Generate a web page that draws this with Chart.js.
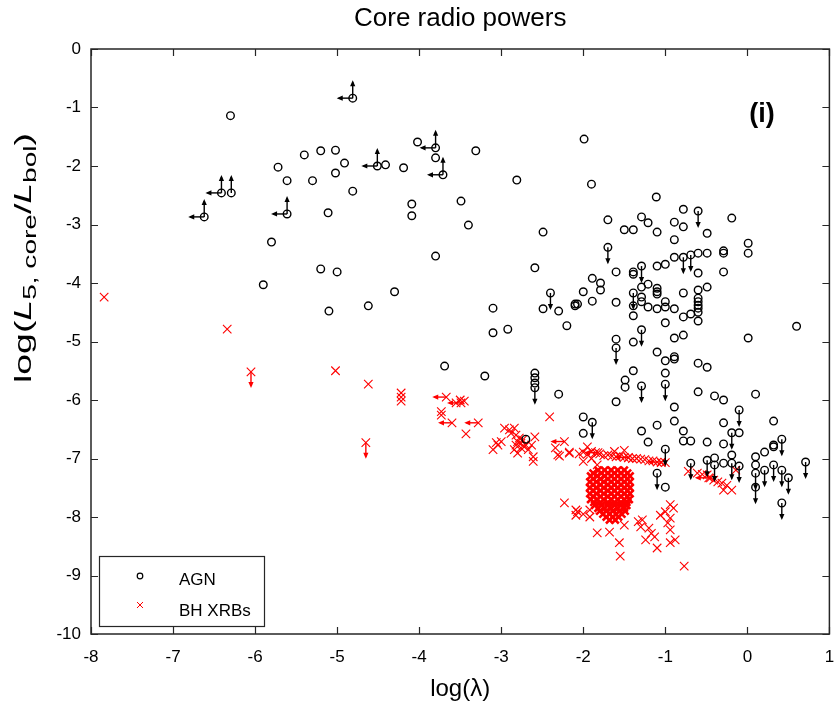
<!DOCTYPE html>
<html>
<head>
<meta charset="utf-8">
<script src="https://cdn.jsdelivr.net/npm/chart.js@4.4.0/dist/chart.umd.min.js"></script>
<style>
  html, body { margin: 0; padding: 0; background: #fff; }
</style>
</head>
<body>
<canvas id="chart" width="837" height="709"></canvas>
<script>
const FONT = '"Liberation Sans", Arial, sans-serif';

// axis ticks
const xTicks = [-8, -7, -6, -5, -4, -3, -2, -1, 0, 1];
const yTicks = [0, -1, -2, -3, -4, -5, -6, -7, -8, -9, -10];

// AGN detections [log lambda, log Lcore/Lbol]
const agnDetections = [
  [-6.30,-1.14],[-5.40,-1.81],[-5.20,-1.74],[-5.02,-1.73],[-5.02,-2.12],[-5.72,-2.02],[-5.61,-2.25],
  [-5.30,-2.25],[-5.11,-2.80],[-5.80,-3.30],[-4.91,-1.95],[-4.81,-2.43],[-4.41,-1.98],[-4.19,-2.03],
  [-4.09,-2.65],[-4.09,-2.85],[-4.02,-1.59],[-3.80,-1.86],[-3.31,-1.74],[-3.49,-2.60],[-2.81,-2.24],
  [-3.40,-3.01],[-2.49,-3.13],[-1.99,-1.54],[-1.90,-2.31],[-1.11,-2.53],[-1.70,-2.92],[-1.50,-3.09],
  [-1.39,-3.09],[-1.29,-2.87],[-1.21,-2.97],[-1.10,-3.13],[-0.89,-2.96],[-0.78,-2.74],[-0.78,-3.04],
  [-0.49,-3.15],[-0.89,-3.26],[-0.19,-2.89],[0.01,-3.32],[-1.60,-3.81],[-1.89,-3.92],[-1.79,-4.00],
  [-1.79,-4.12],[-2.00,-4.15],[-1.89,-4.31],[-2.07,-4.36],[-1.60,-4.33],[-1.39,-3.81],[-1.39,-3.85],
  [-1.10,-3.71],[-1.00,-3.68],[-0.89,-3.56],[-0.60,-3.49],[-0.49,-3.49],[-0.29,-3.45],[-0.29,-3.49],
  [0.01,-3.49],[-0.60,-3.83],[-0.29,-3.81],[-1.29,-4.07],[-1.21,-4.02],[-1.10,-4.09],[-1.10,-4.15],
  [-1.10,-4.19],[-1.29,-4.24],[-1.29,-4.32],[-1.39,-4.39],[-1.21,-4.41],[-1.10,-4.44],[-1.00,-4.32],
  [-1.00,-4.41],[-0.89,-4.44],[-0.78,-4.17],[-0.60,-4.12],[-0.60,-4.26],[-0.60,-4.32],[-0.60,-4.38],
  [-0.60,-4.43],[-0.60,-4.50],[-0.60,-4.65],[-0.49,-4.07],[-0.69,-4.53],[-0.78,-4.58],[-1.39,-4.56],
  [-1.00,-4.68],[-0.78,-4.89],[-0.89,-4.94],[-1.60,-4.96],[-1.39,-5.01],[-1.10,-5.18],[-1.00,-5.33],
  [-0.89,-5.26],[-0.89,-5.30],[-0.60,-5.37],[-0.49,-5.44],[-1.39,-5.50],[-1.00,-5.54],[-1.49,-5.66],
  [-1.49,-5.78],[-1.60,-6.03],[-0.89,-6.12],[-0.60,-5.86],[-0.40,-5.93],[-0.29,-6.00],[0.10,-5.90],
  [0.60,-4.74],[0.01,-4.94],[-2.00,-6.29],[-2.00,-6.57],[-1.29,-6.53],[-1.10,-6.43],[-0.89,-6.36],
  [-0.78,-6.53],[-1.21,-6.72],[-0.78,-6.70],[-0.69,-6.70],[-0.49,-6.72],[-0.29,-6.39],[-0.29,-6.75],
  [-0.10,-6.56],[0.32,-6.36],[0.32,-6.77],[-1.00,-7.49],[-0.40,-6.99],[-0.29,-7.08],[-0.19,-6.94],
  [0.10,-6.97],[0.21,-6.89],[0.32,-6.80],[0.10,-7.11],[-5.00,-3.81],[-5.10,-4.48],[-4.62,-4.39],
  [-4.30,-4.15],[-3.80,-3.54],[-3.69,-5.42],[-3.20,-5.59],[-3.10,-4.43],[-3.10,-4.85],[-2.92,-4.79],
  [-2.59,-3.74],[-2.49,-4.44],[-2.30,-4.48],[-2.20,-4.73],[-2.10,-4.36],[-2.10,-4.39],[-2.59,-5.54],
  [-2.59,-5.62],[-2.59,-5.71],[-2.30,-5.90],[-2.70,-6.67],[-5.90,-4.03],[-5.20,-3.76]
];

// AGN upper limits on core power (down arrows)
const agnUpperLimits = [
  [-0.60,-2.77],[-1.70,-3.39],[-1.29,-3.71],[-0.78,-3.56],[-0.69,-3.52],[-1.39,-4.17],[-1.29,-4.80],
  [-1.60,-5.11],[-1.29,-5.76],[-1.00,-5.73],[-1.89,-6.38],[-0.10,-6.17],[-0.19,-6.56],[0.42,-6.67],
  [-1.00,-6.84],[-1.10,-7.25],[-0.69,-7.08],[-0.49,-7.03],[-0.40,-7.11],[-0.19,-7.08],[-0.10,-7.13],
  [0.10,-7.25],[0.10,-7.49],[0.21,-7.20],[0.32,-7.11],[0.42,-7.20],[0.50,-7.33],[0.71,-7.06],
  [0.42,-7.76],[-2.40,-4.17],[-2.59,-5.79]
];

// AGN with an upper limit on lambda and a lower limit on power (left + up arrows)
const agnLeftUpLimits = [
  [-6.62,-2.87],[-6.41,-2.46],[-5.61,-2.82],[-4.81,-0.84],[-4.51,-2.00],[-3.80,-1.69],[-3.71,-2.15]
];

// AGN lower limit on power only (up arrow)
const agnLowerLimits = [[-6.29,-2.46]];

// BH XRB detections
const xrbDetections = [
  [-7.84,-4.24],[-6.34,-4.79],[-5.02,-5.50],[-4.62,-5.73],[-4.22,-5.88],[-4.22,-5.95],[-4.22,-6.02],
  [-3.73,-6.20],[-3.73,-6.26],[-3.55,-6.05],[-3.50,-6.00],[-3.45,-6.02],[-3.43,-6.58],[-2.41,-6.29],
  [-2.96,-6.48],[-2.90,-6.51],[-2.84,-6.48],[-2.88,-6.57],[-2.82,-6.60],[-2.78,-6.65],[-2.76,-6.74],
  [-2.72,-6.80],[-2.67,-6.85],[-2.63,-6.77],[-2.59,-6.63],[-2.61,-6.97],[-2.61,-7.05],[-2.80,-6.91],
  [-2.84,-6.85],[-3.00,-6.71],[-3.04,-6.77],[-3.10,-6.85],[-2.80,-6.71],[-2.74,-6.68],[-2.70,-6.77],
  [-2.76,-6.82],[-2.82,-6.77],[-3.06,-6.73],
  [-2.34,-6.82],[-2.29,-6.96],[-2.17,-6.89],[-2.31,-6.94],[-2.17,-6.91],
  [-2.05,-6.92],[-2.00,-6.89],[-1.95,-6.93],[-1.90,-6.88],[-1.85,-6.90],[-1.80,-6.92],[-1.75,-6.95],
  [-1.70,-6.94],[-1.65,-6.96],[-1.60,-6.97],[-1.55,-6.96],[-1.50,-6.98],[-1.45,-6.99],[-1.40,-7.00],
  [-1.35,-7.00],[-1.30,-7.01],[-1.25,-7.02],[-1.20,-7.04],[-1.15,-7.04],[-1.10,-7.06],[-1.05,-7.07],
  [-1.00,-7.07],[-1.95,-6.80],[-1.62,-6.88],[-1.50,-6.86],[-1.83,-7.11],[-2.00,-7.05],[-1.90,-7.00],
  [-0.72,-7.22],[-0.61,-7.25],[-0.55,-7.27],[-0.49,-7.28],[-0.45,-7.33],[-0.41,-7.37],[-0.36,-7.40],
  [-0.31,-7.42],[-0.29,-7.54],[-0.19,-7.54],[-0.14,-7.20],[-0.25,-7.46],
  [-2.23,-7.76],[-2.09,-7.88],[-2.09,-7.97],[-1.92,-7.88],[-1.92,-8.00],[-1.83,-8.27],[-1.68,-8.26],
  [-1.56,-8.44],[-1.55,-8.67],[-1.50,-8.14],[-2.07,-7.91],[-2.00,-7.95],
  [-1.28,-8.05],[-1.20,-8.19],[-1.13,-8.34],[-1.10,-8.53],[-1.24,-8.39],[-1.30,-8.17],[-1.33,-8.08],
  [-1.17,-8.28],[-0.94,-7.79],[-1.00,-7.91],[-0.94,-8.02],[-0.94,-8.22],[-0.88,-8.39],[-0.94,-8.44],
  [-1.06,-7.97],[-0.97,-8.10],[-0.90,-7.85],[-0.77,-8.84]
];

// dense XRB clump near log(lambda) = -1.7, one row of points per y
const xrbClumpY = [-7.20,-7.25,-7.30,-7.35,-7.40,-7.45,-7.50,-7.55,-7.60,-7.65,-7.70,-7.75,-7.80,-7.85,-7.90,-7.95,-8.00,-8.05];
const xrbClumpX = [
  [-1.82,-1.74,-1.66,-1.58,-1.50],
  [-1.88,-1.78,-1.70,-1.62,-1.54,-1.46],
  [-1.91,-1.83,-1.74,-1.66,-1.58,-1.50,-1.43],
  [-1.88,-1.79,-1.70,-1.62,-1.54,-1.46],
  [-1.92,-1.84,-1.75,-1.66,-1.58,-1.50,-1.43],
  [-1.88,-1.79,-1.70,-1.62,-1.54,-1.46],
  [-1.92,-1.84,-1.75,-1.66,-1.58,-1.50,-1.43],
  [-1.88,-1.79,-1.70,-1.62,-1.54,-1.46],
  [-1.92,-1.84,-1.75,-1.66,-1.58,-1.50,-1.43],
  [-1.88,-1.79,-1.70,-1.62,-1.54,-1.46],
  [-1.91,-1.83,-1.75,-1.66,-1.58,-1.50,-1.44],
  [-1.87,-1.79,-1.70,-1.62,-1.54,-1.47],
  [-1.86,-1.78,-1.70,-1.62,-1.54,-1.47],
  [-1.82,-1.74,-1.66,-1.58,-1.50],
  [-1.80,-1.72,-1.64,-1.56,-1.49],
  [-1.76,-1.68,-1.60,-1.53],
  [-1.72,-1.64,-1.57],
  [-1.68,-1.61]
];

// XRB upper limits on lambda (left arrows)
const xrbLeftLimits = [
  [-3.67,-5.95],[-3.49,-6.05],[-3.60,-6.39],[-3.28,-6.39],[-2.23,-6.71],[-1.82,-6.90],[-1.45,-6.98],
  [-1.05,-7.06],[-0.47,-7.33]
];

// XRB upper limits on power (down arrows)
const xrbUpperLimits = [[-6.05,-5.52],[-4.65,-6.73]];

const toXY = p => ({ x: p[0], y: p[1] });
const xrbClump = [];
xrbClumpY.forEach((y, i) => xrbClumpX[i].forEach(x => xrbClump.push({ x, y })));

const agnAll = [...agnDetections, ...agnUpperLimits, ...agnLeftUpLimits, ...agnLowerLimits].map(toXY);
const xrbAll = [...xrbDetections, ...xrbLeftLimits, ...xrbUpperLimits].map(toXY);

function drawArrow(ctx, x, y, dx, dy, len, color) {
  const x2 = x + dx * len, y2 = y + dy * len;
  const h = 6, w = 2.6;
  ctx.strokeStyle = color;
  ctx.fillStyle = color;
  ctx.lineWidth = 1.4;
  ctx.beginPath();
  ctx.moveTo(x, y);
  ctx.lineTo(x2 - dx * 2, y2 - dy * 2);
  ctx.stroke();
  ctx.beginPath();
  ctx.moveTo(x2, y2);
  ctx.lineTo(x2 - dx * h - dy * w, y2 - dy * h + dx * w);
  ctx.lineTo(x2 - dx * h + dy * w, y2 - dy * h - dx * w);
  ctx.closePath();
  ctx.fill();
}

const limitArrows = {
  id: 'limitArrows',
  afterDatasetsDraw(chart) {
    const { ctx, scales: { x, y } } = chart;
    ctx.save();
    const px = p => [x.getPixelForValue(p[0]), y.getPixelForValue(p[1])];
    agnUpperLimits.forEach(p => { const [a, b] = px(p); drawArrow(ctx, a, b, 0, 1, 17, '#000'); });
    agnLeftUpLimits.forEach(p => {
      const [a, b] = px(p);
      drawArrow(ctx, a, b, -1, 0, 16, '#000');
      drawArrow(ctx, a, b, 0, -1, 18, '#000');
    });
    agnLowerLimits.forEach(p => { const [a, b] = px(p); drawArrow(ctx, a, b, 0, -1, 18, '#000'); });
    xrbLeftLimits.forEach(p => { const [a, b] = px(p); drawArrow(ctx, a, b, -1, 0, 14, '#ff0000'); });
    xrbUpperLimits.forEach(p => { const [a, b] = px(p); drawArrow(ctx, a, b, 0, 1, 16, '#ff0000'); });
    ctx.restore();
  }
};

// Matlab-style box, inward ticks, title, axis labels, legend
const decorations = {
  id: 'decorations',
  afterDraw(chart) {
    const { ctx, chartArea: a, scales: { x, y } } = chart;
    ctx.save();
    ctx.strokeStyle = '#262626';
    ctx.lineWidth = 1.5;
    ctx.strokeRect(a.left, a.top, a.right - a.left, a.bottom - a.top);
    ctx.lineWidth = 1.2;
    ctx.beginPath();
    xTicks.forEach(v => {
      const p = Math.round(x.getPixelForValue(v)) + 0.5;
      ctx.moveTo(p, a.bottom); ctx.lineTo(p, a.bottom - 7);
      ctx.moveTo(p, a.top); ctx.lineTo(p, a.top + 7);
    });
    yTicks.forEach(v => {
      const p = Math.round(y.getPixelForValue(v)) + 0.5;
      ctx.moveTo(a.left, p); ctx.lineTo(a.left + 7, p);
      ctx.moveTo(a.right, p); ctx.lineTo(a.right - 7, p);
    });
    ctx.stroke();

    ctx.fillStyle = '#000';
    ctx.textAlign = 'center';
    ctx.textBaseline = 'middle';
    ctx.font = '26px ' + FONT;
    ctx.fillText('Core radio powers', (a.left + a.right) / 2, 19);
    ctx.font = '24px ' + FONT;
    ctx.fillText('log(\u03bb)', (a.left + a.right) / 2, 689);
    ctx.font = 'bold 27px ' + FONT;
    ctx.fillText('(i)', 762, 115);

    // y axis label with subscripts, stretched along its run
    const parts = [
      ['log(', '', 24, 0], ['L', 'italic ', 24, 0], ['5, core', '', 18, 7],
      ['/', '', 24, 0], ['L', 'italic ', 24, 0], ['bol', '', 18, 7], [')', '', 24, 0]
    ];
    let total = 0;
    parts.forEach(pt => { ctx.font = pt[1] + pt[2] + 'px ' + FONT; total += ctx.measureText(pt[0]).width; });
    const stretch = 250 / total;
    ctx.translate(24, 258);
    ctx.rotate(-Math.PI / 2);
    ctx.scale(stretch, 1);
    ctx.textAlign = 'left';
    let cx = -total / 2;
    parts.forEach(pt => {
      ctx.font = pt[1] + pt[2] + 'px ' + FONT;
      ctx.fillText(pt[0], cx, pt[3]);
      cx += ctx.measureText(pt[0]).width;
    });
    ctx.restore();

    // legend
    ctx.save();
    ctx.fillStyle = '#fff';
    ctx.fillRect(99, 556, 165, 70);
    ctx.strokeStyle = '#262626';
    ctx.lineWidth = 1.2;
    ctx.strokeRect(99.5, 556.5, 165, 70);
    ctx.strokeStyle = '#000';
    ctx.lineWidth = 1.2;
    ctx.beginPath();
    ctx.arc(140, 576, 2.8, 0, Math.PI * 2);
    ctx.stroke();
    ctx.strokeStyle = '#ff0000';
    ctx.lineWidth = 1;
    ctx.beginPath();
    ctx.moveTo(137, 602); ctx.lineTo(143, 608);
    ctx.moveTo(143, 602); ctx.lineTo(137, 608);
    ctx.stroke();
    ctx.fillStyle = '#000';
    ctx.font = '17px ' + FONT;
    ctx.textBaseline = 'middle';
    ctx.textAlign = 'left';
    ctx.fillText('AGN', 179, 580);
    ctx.fillText('BH XRBs', 179, 611);
    ctx.restore();
  }
};

new Chart(document.getElementById('chart'), {
  type: 'scatter',
  data: {
    datasets: [
      {
        label: 'AGN',
        data: agnAll,
        pointStyle: 'circle',
        pointRadius: 3.8,
        borderColor: '#000',
        backgroundColor: 'rgba(0,0,0,0)',
        borderWidth: 1.4
      },
      {
        label: 'BH XRBs',
        data: xrbAll,
        pointStyle: 'crossRot',
        pointRadius: 6,
        borderColor: '#ff0000',
        backgroundColor: '#ff0000',
        borderWidth: 1.1
      },
      {
        label: 'BH XRBs clump',
        data: xrbClump,
        pointStyle: 'crossRot',
        pointRadius: 5,
        borderColor: '#ff0000',
        backgroundColor: '#ff0000',
        borderWidth: 2.6
      }
    ]
  },
  options: {
    responsive: false,
    animation: false,
    devicePixelRatio: 1,
    layout: { padding: { left: 0, top: 49, right: 4, bottom: 0 } },
    plugins: { legend: { display: false }, tooltip: { enabled: false } },
    scales: {
      x: {
        type: 'linear', min: -8, max: 1,
        grid: { display: false, drawTicks: false },
        border: { display: false },
        ticks: { stepSize: 1, padding: 13, color: '#000', font: { family: FONT, size: 17 } },
        afterFit: s => { s.height = 75; s.paddingLeft = 0; s.paddingRight = 0; }
      },
      y: {
        type: 'linear', min: -10, max: 0,
        grid: { display: false, drawTicks: false },
        border: { display: false },
        ticks: { stepSize: 1, padding: 10, color: '#000', font: { family: FONT, size: 17 } },
        afterFit: s => { s.width = 91; s.paddingTop = 0; s.paddingBottom = 0; }
      }
    }
  },
  plugins: [limitArrows, decorations]
});
</script>
</body>
</html>
